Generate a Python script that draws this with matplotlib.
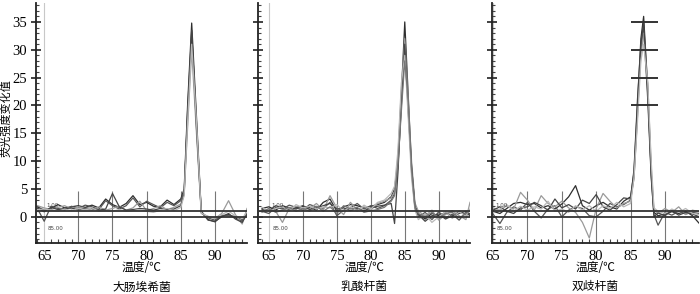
import matplotlib
matplotlib.use("Agg")
import matplotlib.pyplot as plt
from matplotlib.ticker import MultipleLocator

cjk = ["Noto Sans CJK SC", "DejaVu Sans"]
plt.rcParams["font.family"] = ["Liberation Serif", "DejaVu Serif"]

# 大肠埃希菌
x1 = [64, 65, 66, 67, 68, 69, 70, 71, 72, 73, 74, 75, 76, 77, 78, 79, 80, 81,
      82, 83, 84, 85, 85.5, 86, 86.6, 87.3, 88, 89, 90, 91, 92, 93, 94, 94.7]
curves1 = [
    [1.8, 1.2, 1.5, 2.2, 1.6, 1.8, 2.0, 1.7, 2.1, 1.6, 3.2, 2.2, 1.7, 2.4, 3.8, 2.2, 2.6,
     1.9, 1.8, 3.0, 2.2, 3.2, 5.0, 20, 34.8, 18, 1.0, -0.5, -0.9, 0.1, 0.4, -0.2, -0.8, 0.8],
    [1.5, -0.8, 1.9, 1.5, 1.2, 1.9, 1.5, 2.1, 1.8, 1.3, 2.9, 2.0, 1.4, 2.0, 3.4, 1.8, 2.8,
     2.2, 1.6, 2.6, 2.0, 2.9, 4.6, 18, 33, 17, 0.8, -0.2, -0.6, 0.3, 0.2, 0.1, -0.5, 0.3],
    [2.0, 1.6, 1.3, 1.7, 2.0, 1.4, 1.8, 1.5, 1.2, 1.8, 1.2, 1.5, 1.9, 1.2, 1.6, 2.8, 1.1,
     1.5, 2.0, 1.3, 1.7, 2.3, 4.0, 16, 30, 15, 0.6, 0.1, -0.3, 0.6, 2.9, 0.4, -1.3, 1.5],
    [1.6, 0.9, 1.7, 1.3, 1.5, 1.6, 1.2, 1.6, 1.5, 1.2, 1.4, 4.2, 1.8, 1.2, 1.3, 1.5, 1.4,
     1.2, 1.5, 1.3, 1.4, 2.0, 4.2, 19, 33.5, 16, 0.9, -0.6, -0.8, 0.0, 0.6, -0.4, -1.0, 0.5],
    [1.3, 1.4, 1.2, 1.0, 1.4, 1.1, 1.5, 1.3, 1.6, 1.0, 1.1, 1.0, 1.3, 1.0, 1.1, 1.3, 1.0,
     0.8, 1.2, 1.5, 1.1, 1.7, 3.8, 17, 31, 17, 0.7, 0.0, -0.2, 0.4, 1.0, 0.2, -0.3, 0.9],
]

# 乳酸杆菌
x2 = [64, 65, 66, 67, 68, 69, 70, 71, 72, 73, 74, 75, 76, 77, 78, 79, 80, 81, 82, 83,
      83.5, 84, 84.5, 85, 85.5, 86, 86.5, 87, 88, 89, 90, 91, 92, 93, 94, 94.6]
curves2 = [
    [1.5, 1.8, 1.2, 2.0, 1.6, 1.4, 1.9, 1.7, 1.2, 2.6, 3.2, 1.0, 1.8, 2.2, 2.0, 1.6, 1.9, 2.2,
     2.6, 3.6, 5.0, 10, 22, 35, 22, 9, 2.0, 0.5, -0.4, 0.6, 0.2, 0.8, 0.0, 1.0, 0.3, 0.6],
    [1.0, 0.6, 1.7, 1.4, 2.1, 1.7, 1.2, 2.2, 1.8, 1.5, 2.6, 0.2, 1.2, 1.6, 2.4, 1.4, 2.0, 1.5,
     2.0, 3.0, 4.2, 9, 20, 30, 20, 8, 1.5, 0.0, 0.8, -0.5, 0.9, -0.2, 0.5, -0.6, 0.8, 0.4],
    [0.8, 1.4, 1.0, -1.0, 1.5, 1.9, 1.4, 1.5, 2.4, 1.2, 3.8, 1.6, 0.4, 2.6, 1.3, 1.8, 1.2, 2.4,
     2.8, 3.4, 4.6, 11, 23, 32, 21, 10, 2.5, 1.0, 0.2, 1.2, -0.6, 0.4, 1.1, 0.2, -0.5, 2.6],
    [1.3, 1.1, 2.0, 1.6, 1.2, 1.6, 2.0, 1.3, 1.6, 2.0, 2.4, 1.4, 1.6, 1.1, 1.5, 1.1, 1.6, 1.9,
     2.1, 2.4, -1.2, 8, 21, 31, 19, 9, 1.8, 0.4, -0.8, 0.2, 0.5, -0.4, 0.2, 0.6, 1.0, 0.1],
    [1.7, 1.0, 1.5, 1.8, 1.0, 2.2, 1.6, 1.9, 1.4, 1.8, 1.6, 2.2, 1.0, 1.8, 1.0, 2.1, 1.4, 2.6,
     3.0, 4.2, 5.5, 12, 24, 29, 18, 7, 1.2, -0.5, 0.5, -1.0, 0.0, 0.9, -0.3, 0.9, 0.2, 1.4],
    [0.9, 1.5, 0.8, 1.2, 1.7, 1.0, 1.5, 1.0, 1.9, 1.0, 1.8, 0.6, 2.0, 1.4, 1.7, 0.8, 1.1, 1.3,
     1.7, 2.8, 3.8, 9.5, 19, 28, 21, 8.5, 1.6, 0.6, 0.0, 0.8, -0.2, 0.6, 0.8, -0.2, 0.6, 1.0],
]

# 双歧杆菌
x3 = [65, 66, 67, 68, 69, 70, 71, 72, 73, 74, 75, 76, 77, 78, 79, 80, 81, 82, 83, 84, 85,
      85.5, 86, 86.5, 86.9, 87.5, 88, 88.4, 89, 90, 91, 92, 93, 94, 95]
curves3 = [
    [1.0, 0.6, 1.5, 2.4, 2.6, 2.2, 2.4, 1.6, 2.0, 1.4, 2.3, 3.6, 5.6, 2.0, 1.2, 2.0, 2.6, 1.8,
     1.4, 2.8, 3.6, 8, 20, 32, 36, 23, 8, 0.8, 0.2, 0.5, 0.9, 0.6, 1.0, 0.2, -1.2],
    [0.5, -1.2, 0.8, 1.8, 1.2, 2.6, 1.0, -0.2, 1.4, 2.0, 0.0, 1.2, 1.8, 1.5, 0.2, 0.0, 1.0, 2.4,
     1.8, 2.2, 3.0, 7, 18, 30, 34, 21, 7, 0.4, -1.5, 0.8, 0.3, 1.0, 0.5, 0.8, 0.6],
    [1.6, 1.2, 2.0, 1.4, 4.4, 3.0, 1.2, 3.8, 2.4, 1.8, 2.8, 1.6, 0.8, -1.0, -3.8, 1.5, 4.2, 2.8,
     1.6, 2.4, 2.8, 7.5, 19, 29, 33, 24, 9, 1.2, 0.6, 1.5, 0.8, 1.8, 0.4, 1.2, 0.9],
    [1.2, 1.8, 1.0, 0.6, 1.6, 1.8, 2.6, 2.0, 1.2, 3.2, 1.6, 2.2, 1.4, 3.0, 2.4, 4.0, 1.8, 1.2,
     2.2, 3.4, 3.2, 8.5, 21, 31, 35, 22, 7.5, 0.0, 0.7, 0.2, 1.1, 0.3, 0.8, 0.5, 0.0],
    [0.8, 1.4, 2.2, 1.0, 1.9, 1.2, 1.8, 1.4, 2.8, 1.0, 1.4, 0.8, 2.0, 1.2, 2.0, 1.0, 2.0, 1.5,
     2.6, 1.8, 2.4, 7, 17, 28, 31, 24, 10, 1.6, 1.0, 0.6, 1.4, 0.8, 1.5, 0.6, 0.4],
]

# crossbars at the Bifidobacterium peak
bars3 = [20, 25, 30, 35]

panels = [
    ("大肠埃希菌", x1, curves1, (63.8, 94.7), [36, 211]),
    ("乳酸杆菌", x2, curves2, (63.4, 94.6), [258, 212]),
    ("双歧杆菌", x3, curves3, (64.85, 94.95), [492, 207]),
]
shades = ["#2e2e2e", "#555555", "#9a9a9a", "#444444", "#b8b8b8", "#777777"]
threshold = 1.1

fig = plt.figure(figsize=(7, 2.94), dpi=100)

for i, (name, xs, curves, xlim, (left, width)) in enumerate(panels):
    ax = fig.add_axes([left / 700, 51 / 294, width / 700, 240 / 294])
    ax.set_xlim(*xlim)
    ax.set_ylim(-4.7, 38.4)

    for spine in ["top", "right"]:
        ax.spines[spine].set_visible(False)
    for spine in ["left", "bottom"]:
        ax.spines[spine].set_linewidth(1.3)
        ax.spines[spine].set_color("#222222")

    # light full-height line at 65 and short grid lines near the baseline
    ax.axvline(65, color="#c8c8c8", lw=0.8, zorder=0)
    ax.vlines([70, 75, 80, 85, 90], -4.7, 4.6, color="#777777", lw=0.8, zorder=1)

    for k, ys in enumerate(curves):
        ax.plot(xs, ys, color=shades[k % len(shades)], lw=0.9, zorder=2)

    ax.axhline(0, color="#333333", lw=1.3, zorder=3)
    ax.axhline(threshold, color="#333333", lw=1.3, zorder=3)
    ax.text(65.3, 1.7, "1.00", fontsize=4, color="#444444",
            family=["DejaVu Sans"], zorder=4)
    ax.text(65.5, -2.3, "85.00", fontsize=4, color="#444444",
            family=["DejaVu Sans"], zorder=4)

    if i == 2:
        ax.hlines(bars3, 85.05, 89.0, color="#333333", lw=1.4, zorder=4)

    ax.xaxis.set_major_locator(MultipleLocator(5))
    ax.xaxis.set_minor_locator(MultipleLocator(1))
    ax.yaxis.set_major_locator(MultipleLocator(5))
    ax.yaxis.set_minor_locator(MultipleLocator(1))
    ax.tick_params(axis="x", which="major", length=0, pad=5, labelsize=10.5)
    ax.tick_params(axis="x", which="minor", direction="in", length=3,
                   width=0.8, color="#444444")
    ax.tick_params(axis="y", which="major", direction="inout", length=7,
                   width=1.3, color="#333333", labelsize=10.5, pad=3)
    ax.tick_params(axis="y", which="minor", direction="in", length=2,
                   width=0.8, color="#444444")
    ax.set_yticks([0, 5, 10, 15, 20, 25, 30, 35])
    if i > 0:
        ax.tick_params(axis="y", labelleft=False)

    ax.text(0.5, -0.104, "温度/℃", transform=ax.transAxes, ha="center",
            va="center", family=cjk, fontsize=8.5)
    ax.text(0.5, -0.183, name, transform=ax.transAxes, ha="center", va="center",
            family=cjk, fontsize=8.5)

fig.text(6.5 / 700, 1 - 118 / 294, "荧光强度变化值", rotation=90, ha="center",
         va="center", family=cjk, fontsize=8)

fig.savefig("out.png", dpi=100)
plt.close(fig)
